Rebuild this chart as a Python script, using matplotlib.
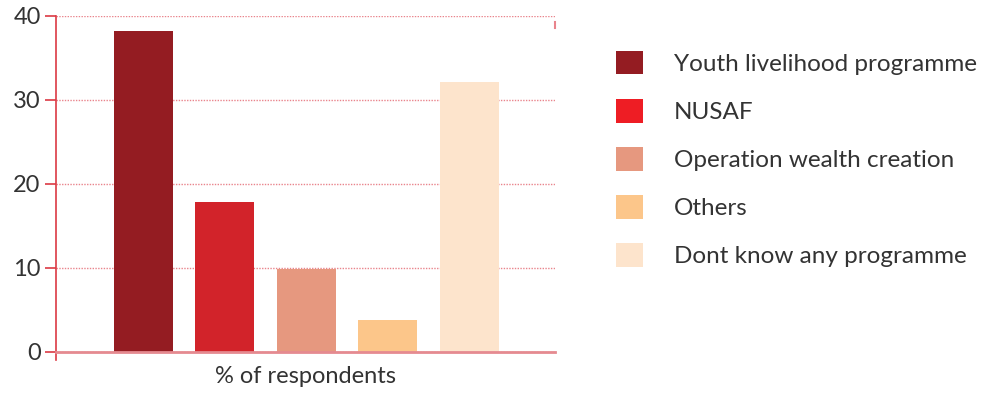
import matplotlib
matplotlib.use("Agg")
import matplotlib.pyplot as plt
from matplotlib.patches import Patch

programmes = ["Youth livelihood programme", "NUSAF", "Operation wealth creation",
              "Others", "Dont know any programme"]
shares = [38.2, 17.8, 9.9, 3.8, 32.1]
bar_colors = ["#941c22", "#d2232a", "#e6987f", "#fcc68a", "#fde4cc"]
key_colors = ["#941c22", "#ee1d24", "#e6987f", "#fcc68a", "#fde4cc"]
y_ticks = [0, 10, 20, 30, 40]
x_label = "% of respondents"

plt.rcParams["font.family"] = ["Lato", "DejaVu Sans"]
text_color = "#333333"
axis_red = "#dc3a44"
grid_red = "#e9848c"

fig = plt.figure(figsize=(9.87, 3.93), dpi=100)
ax = fig.add_axes([56 / 987, 1 - 352 / 393, (555 - 56) / 987, (352 - 16) / 393])

positions = list(range(len(programmes)))
ax.bar(positions, shares, width=0.72, color=bar_colors, zorder=3)

ax.set_xlim(-1.07, 5.05)
ax.set_ylim(0, 40)
ax.set_yticks(y_ticks)
ax.set_xticks([])
ax.tick_params(axis="y", direction="out", length=8, width=1.2, color=axis_red,
               labelsize=17, labelcolor=text_color, pad=3)
ax.yaxis.grid(True, linestyle=(0, (1, 1)), color=grid_red, linewidth=1.0, zorder=1)

ax.spines["top"].set_visible(False)
ax.spines["right"].set_bounds(38.6, 39.3)
ax.spines["right"].set_color(grid_red)
ax.spines["right"].set_linewidth(1.5)
ax.spines["left"].set_color(axis_red)
ax.spines["left"].set_linewidth(1.2)
ax.spines["left"].set_bounds(-1, 40)
ax.spines["bottom"].set_color("#e58a90")
ax.spines["bottom"].set_linewidth(2)
ax.spines["bottom"].set_zorder(4)

ax.set_xlabel(x_label, fontsize=17, color=text_color, labelpad=10)

handles = [Patch(facecolor=c, edgecolor="none") for c in key_colors]
fig.legend(handles, programmes, loc="upper left", bbox_to_anchor=(616 / 987, 1 - 51 / 393),
           frameon=False, fontsize=17.5, labelcolor=text_color,
           handlelength=1.11, handleheight=1.11, handletextpad=1.27,
           labelspacing=0.99, borderaxespad=0, borderpad=0)

fig.savefig("out.png", dpi=100)
